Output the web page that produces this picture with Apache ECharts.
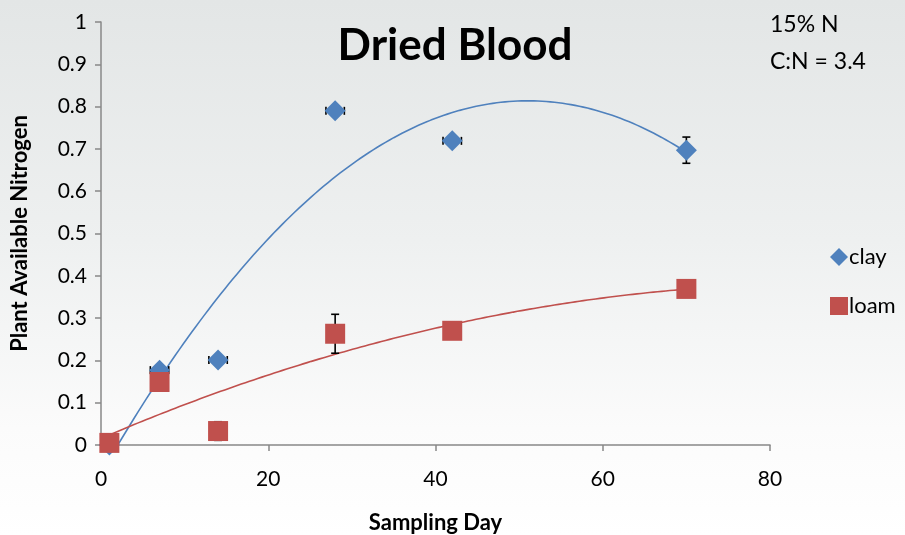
<!DOCTYPE html>
<html>
<head>
<meta charset="utf-8">
<script src="https://cdn.jsdelivr.net/npm/echarts@6/dist/echarts.min.js"></script>
<style>
  html, body { margin: 0; padding: 0; }
  body { width: 905px; height: 535px; background: linear-gradient(to bottom, #e3e6e6 0%, #eef0f0 45%, #fbfbfb 80%, #ffffff 100%); }
  #chart { width: 905px; height: 535px; }
</style>
</head>
<body>
<div id="chart"></div>
<script>
// Sampling days and plant-available nitrogen by soil type
const days = [1, 7, 14, 28, 42, 70];
const clay = [0.0, 0.177, 0.201, 0.79, 0.719, 0.697];
const loam = [0.005, 0.149, 0.033, 0.263, 0.27, 0.369];
// error bar half-widths (nitrogen axis) and day spread
const clayErrY = [0, 0, 0, 0, 0, 0.031];
const clayErrX = [0, 1.1, 1.1, 1.1, 1.1, 0];
const loamErrY = [0, 0, 0.022, 0.046, 0, 0];
const yTicks = [0, 0.1, 0.2, 0.3, 0.4, 0.5, 0.6, 0.7, 0.8, 0.9, 1];
const xTicks = [0, 20, 40, 60, 80];

const FONT = 'Lato, "Open Sans", sans-serif';
const BLUE = '#4f81bd';
const RED = '#c0504d';

// Second-order least-squares polynomial trend
function quadFit(xs, ys) {
  let s = [0, 0, 0, 0, 0], t = [0, 0, 0];
  xs.forEach((x, i) => {
    for (let k = 0; k < 5; k++) s[k] += Math.pow(x, k);
    for (let k = 0; k < 3; k++) t[k] += ys[i] * Math.pow(x, k);
  });
  const M = [[s[0], s[1], s[2], t[0]], [s[1], s[2], s[3], t[1]], [s[2], s[3], s[4], t[2]]];
  for (let c = 0; c < 3; c++) {
    for (let r = c + 1; r < 3; r++) {
      const f = M[r][c] / M[c][c];
      for (let k = c; k < 4; k++) M[r][k] -= f * M[c][k];
    }
  }
  const coef = [0, 0, 0];
  for (let r = 2; r >= 0; r--) {
    let v = M[r][3];
    for (let k = r + 1; k < 3; k++) v -= M[r][k] * coef[k];
    coef[r] = v / M[r][r];
  }
  return coef;
}
function trend(xs, ys) {
  const c = quadFit(xs, ys);
  const pts = [];
  const x0 = xs[0], x1 = xs[xs.length - 1];
  for (let i = 0; i <= 140; i++) {
    const x = x0 + (x1 - x0) * i / 140;
    pts.push([x, c[0] + c[1] * x + c[2] * x * x]);
  }
  return pts;
}

function errorData(ys, ex, ey) {
  return days.map((d, i) => [d, ys[i], ex[i], ey[i]]).filter(r => r[2] > 0 || r[3] > 0);
}
function errorSeries(data, z) {
  return {
    type: 'custom',
    data: data,
    z: z,
    silent: true,
    encode: { x: 0, y: 1 },
    renderItem: function (params, api) {
      const x = api.value(0), y = api.value(1), ex = api.value(2), ey = api.value(3);
      const kids = [];
      const style = { stroke: '#000', lineWidth: 1.6 };
      const cap = 4;
      if (ey > 0) {
        const top = api.coord([x, y + ey]);
        const bot = api.coord([x, y - ey]);
        kids.push({ type: 'line', shape: { x1: top[0], y1: top[1], x2: bot[0], y2: bot[1] }, style: style });
        kids.push({ type: 'line', shape: { x1: top[0] - cap, y1: top[1], x2: top[0] + cap, y2: top[1] }, style: style });
        kids.push({ type: 'line', shape: { x1: bot[0] - cap, y1: bot[1], x2: bot[0] + cap, y2: bot[1] }, style: style });
      }
      if (ex > 0) {
        const l = api.coord([x - ex, y]);
        const r = api.coord([x + ex, y]);
        kids.push({ type: 'line', shape: { x1: l[0], y1: l[1], x2: r[0], y2: r[1] }, style: style });
        kids.push({ type: 'line', shape: { x1: l[0], y1: l[1] - cap, x2: l[0], y2: l[1] + cap }, style: style });
        kids.push({ type: 'line', shape: { x1: r[0], y1: r[1] - cap, x2: r[0], y2: r[1] + cap }, style: style });
      }
      return { type: 'group', children: kids };
    }
  };
}

const chart = echarts.init(document.getElementById('chart'), null, { renderer: 'canvas' });
chart.setOption({
  backgroundColor: 'transparent',
  animation: false,
  title: [
    { text: 'Dried Blood', left: 450, top: 19, textAlign: 'center',
      textStyle: { fontFamily: FONT, fontWeight: 'bold', fontSize: 44, color: '#000' } },
    { text: '15% N\nC:N = 3.4', left: 765, top: 1,
      textStyle: { fontFamily: FONT, fontWeight: 'normal', fontSize: 23, lineHeight: 37, color: '#000' } }
  ],
  legend: {
    orient: 'vertical',
    left: 825, top: 241,
    itemGap: 27,
    itemWidth: 18, itemHeight: 18,
    data: [{ name: 'clay', icon: 'diamond' }, { name: 'loam', icon: 'rect' }],
    textStyle: { fontFamily: FONT, fontSize: 22, color: '#000', padding: [0, 0, 0, -4] }
  },
  grid: { left: 101, right: 135, top: 22, bottom: 90, containLabel: false, outerBoundsMode: 'none' },
  xAxis: {
    type: 'value', min: xTicks[0], max: xTicks[xTicks.length - 1], interval: 20,
    name: 'Sampling Day', nameLocation: 'middle', nameGap: 67,
    nameTextStyle: { fontFamily: FONT, fontWeight: 'bold', fontSize: 22, color: '#000' },
    axisLine: { show: true, lineStyle: { color: '#888', width: 1.5 } },
    axisTick: { show: true, length: 6, lineStyle: { color: '#888', width: 1.5 } },
    axisLabel: { fontFamily: FONT, fontSize: 21, color: '#000', margin: 24 },
    splitLine: { show: false }
  },
  yAxis: {
    type: 'value', min: yTicks[0], max: yTicks[yTicks.length - 1], interval: 0.1,
    name: 'Plant Available Nitrogen', nameLocation: 'middle', nameGap: 70,
    nameTextStyle: { fontFamily: FONT, fontWeight: 'bold', fontSize: 22, color: '#000' },
    axisLine: { show: true, lineStyle: { color: '#888', width: 1.5 } },
    axisTick: { show: true, length: 6, lineStyle: { color: '#888', width: 1.5 } },
    axisLabel: { fontFamily: FONT, fontSize: 21, color: '#000', margin: 14,
      formatter: v => String(Math.round(v * 10) / 10) },
    splitLine: { show: false }
  },
  series: [
    { name: 'clay trend', type: 'line', data: trend(days, clay), showSymbol: false, symbol: 'none',
      smooth: false, clip: true, z: 2, silent: true,
      lineStyle: { color: BLUE, width: 1.6 } },
    { name: 'loam trend', type: 'line', data: trend(days, loam), showSymbol: false, symbol: 'none',
      smooth: false, clip: true, z: 2, silent: true,
      lineStyle: { color: RED, width: 1.6 } },
    errorSeries(errorData(clay, clayErrX, clayErrY), 3),
    errorSeries(errorData(loam, days.map(() => 0), loamErrY), 3),
    { name: 'clay', type: 'scatter', symbol: 'diamond', symbolSize: 21, z: 4,
      data: days.map((d, i) => [d, clay[i]]), itemStyle: { color: BLUE, opacity: 1 } },
    { name: 'loam', type: 'scatter', symbol: 'rect', symbolSize: 20, z: 5,
      data: days.map((d, i) => [d, loam[i]]), itemStyle: { color: RED, opacity: 1 } }
  ]
});
</script>
</body>
</html>
